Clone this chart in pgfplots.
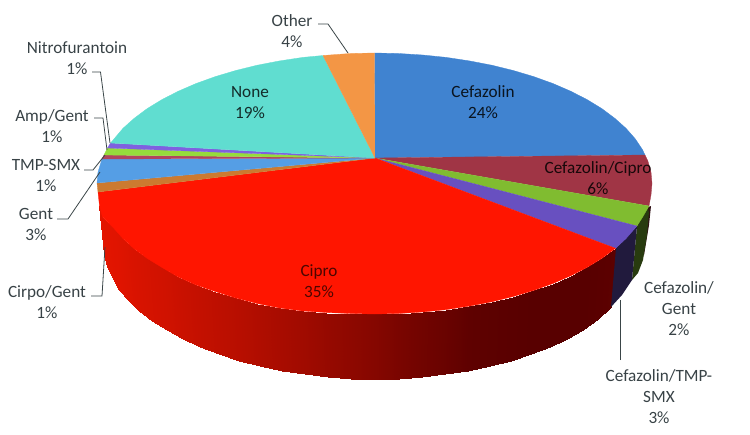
\documentclass[border=0pt]{standalone}
\usepackage{pgfplots}
\usepackage{fontspec}
\setmainfont{Carlito}
\pgfplotsset{compat=1.18}
\definecolor{cCef}{HTML}{4083D0}
\definecolor{cCC}{HTML}{A03545}
\definecolor{cCG}{HTML}{80BC30}
\definecolor{cCT}{HTML}{6850C0}
\definecolor{cCip}{HTML}{FF1500}
\definecolor{cCpG}{HTML}{CC7A30}
\definecolor{cGen}{HTML}{559EE5}
\definecolor{cTMP}{HTML}{B0455F}
\definecolor{cAmp}{HTML}{96DC3C}
\definecolor{cNit}{HTML}{7F60E0}
\definecolor{cNon}{HTML}{60DDD0}
\definecolor{cOth}{HTML}{F39645}
\definecolor{cLine}{HTML}{3A4548}
\definecolor{cTxt}{HTML}{384246}
\newcommand{\lab}[4]{\node[align=center,text=#4,font=\fontsize{17.2}{21}\selectfont,inner sep=0pt] at (axis cs:#1,#2) {#3};}
\begin{document}
\begin{tikzpicture}
\begin{axis}[
  width=750pt,height=434pt,scale only axis,
  xmin=0,xmax=750,ymin=0,ymax=434,y dir=reverse,
  axis line style={draw=none},ticks=none,
  colormap={redside}{rgb255=(88,0,0) rgb255=(255,25,0)},
  point meta min=88,point meta max=255,
  no markers,
]
% side wall of the Cipro slice
\addplot[surf,shader=interp,mesh/rows=2,point meta=explicit] table[x=x,y=y,meta=c] {
x y c
615.5 248.3 92
601.8 258.4 90
587.1 267.4 88
570.7 275.8 88
552.9 283.5 88
533.7 290.4 88
513.3 296.5 90
491.8 301.8 92
469.4 306.1 95
446.3 309.6 105
422.7 312.0 113
398.7 313.5 122
374.5 314.0 133
350.3 313.5 142
326.3 312.5 150
302.7 311.0 160
279.6 308.0 168
257.2 303.5 176
235.7 298.0 184
215.3 291.5 190
196.1 285.0 196
178.3 277.0 202
161.9 267.4 208
147.2 258.4 212
134.2 248.8 216
123.0 238.6 220
113.7 228.1 224
102.5 217.0 226
99.5 206.0 228
611.0 307.0 92
597.8 319.0 90
583.4 330.4 88
567.3 339.2 88
549.8 347.2 88
531.0 354.4 88
511.0 360.8 90
490.0 366.3 92
468.0 370.8 95
445.4 374.4 105
422.2 376.9 113
398.7 378.5 122
375.0 379.0 133
351.3 378.5 142
327.8 376.9 150
304.6 374.4 160
282.0 370.8 168
260.0 366.3 176
239.0 360.8 184
219.0 354.4 190
200.2 347.2 196
182.7 339.2 202
166.6 330.4 208
152.2 321.0 212
139.4 311.0 216
128.5 300.5 220
119.4 289.5 224
107.0 266.6 226
104.5 254.0 228
};
% side walls on the right
\addplot[fill=black!70!cCC,draw=none] coordinates {(648,207)(651,206)(649,225)(644,255)(642,255)(646,230)};
\addplot[fill=black!65!cCG!90!black,draw=none] coordinates {(647,207)(637,226)(632,280)(638,273)(643,260)(647,235)(649,212)};
\addplot[fill=black!68!cCT,draw=none] coordinates {(637,226)(616,248)(611,307)(622,295)(632,280)};
% top surface: Cefazolin
\addplot[fill=cCef,draw=cCef,line width=.3pt] coordinates {(375,158)(374.5,53)(398.7,53.5)(422.7,55)(446.3,57.4)(469.4,60.9)(491.8,65.2)(513.3,70.5)(533.7,76.6)(552.9,83.5)(570.7,91.2)(587.1,99.6)(601.8,108.6)(614.8,118.3)(626,128.3)(635.3,138.9)(642.5,149.7)(645,155)};
% Cefazolin/Cipro
\addplot[fill=cCC,draw=cCC,line width=.3pt] coordinates {(375,158)(645,155)(647.8,160.8)(651,172.1)(652,183.5)(651,194.9)(649,206)};
% Cefazolin/Gent
\addplot[fill=cCG,draw=cCG,line width=.3pt] coordinates {(375,158)(649,206)(642.5,217.3)(636.9,226)};
% Cefazolin/TMP-SMX
\addplot[fill=cCT,draw=cCT,line width=.3pt] coordinates {(375,158)(636.9,226)(626,238.6)(615.5,248.3)};
% Cipro
\addplot[fill=cCip,draw=cCip,line width=.3pt] coordinates {(375,158)(615.5,248.3)(601.8,258.4)(587.1,267.4)(570.7,275.8)(552.9,283.5)(533.7,290.4)(513.3,296.5)(491.8,301.8)(469.4,306.1)(446.3,309.6)(422.7,312)(398.7,313.5)(374.5,314)(350.3,313.5)(326.3,312.5)(302.7,311)(279.6,308)(257.2,303.5)(235.7,298)(215.3,291.5)(196.1,285)(178.3,277)(161.9,267.4)(147.2,258.4)(134.2,248.8)(123,238.6)(113.7,228.1)(102.5,217)(99.5,206)(98,192)};
% Cirpo/Gent
\addplot[fill=cCpG,draw=cCpG,line width=.3pt] coordinates {(375,158)(98,192)(97,183)};
% Gent
\addplot[fill=cGen,draw=cGen,line width=.3pt] coordinates {(375,158)(97,183)(98,172.1)(102,159)};
% TMP-SMX
\addplot[fill=cTMP,draw=cTMP,line width=.3pt] coordinates {(375,158)(102,159)(104,155)};
% Amp/Gent
\addplot[fill=cAmp,draw=cAmp,line width=.3pt] coordinates {(375,158)(104,155)(107.5,148)};
% Nitrofurantoin
\addplot[fill=cNit,draw=cNit,line width=.3pt] coordinates {(375,158)(107.5,148)(110.6,143)};
% None
\addplot[fill=cNon,draw=cNon,line width=.3pt] coordinates {(375,158)(110.6,143)(123,128.3)(134.2,118.3)(147.2,108.6)(161.9,99.6)(178.3,91.2)(196.1,83.5)(215.3,76.6)(235.7,70.5)(257.2,65.2)(279.6,60.9)(302.7,57.4)(323,55.5)};
% Other
\addplot[fill=cOth,draw=cOth,line width=.3pt] coordinates {(375,158)(323,55.5)(350.3,53.5)(374.5,53)};
% leader lines
\addplot[cLine,line width=.8pt] coordinates {(318,24)(328,24)(348,53)};
\addplot[cLine,line width=.8pt] coordinates {(92,72)(100.5,72)(110,143)};
\addplot[cLine,line width=.8pt] coordinates {(94,118)(103,118)(107,150)};
\addplot[cLine,line width=.8pt] coordinates {(84,170)(93,170)(105,155)};
\addplot[cLine,line width=.8pt] coordinates {(57,219)(68,219)(100,172)};
\addplot[cLine,line width=.8pt] coordinates {(91,296)(102,296)(105,247)};
\addplot[cLine,line width=.8pt] coordinates {(620,360)(620,300)};
% labels
\lab{483}{102.5}{Cefazolin\\24\%}{black!85!cCef}
\lab{598}{178.5}{Cefazolin/Cipro\\6\%}{black!85!cCC}
\lab{250}{102.5}{None\\19\%}{black!80!cNon}
\lab{319}{281.5}{Cipro\\35\%}{black!70!cCip}
\lab{292}{31.5}{Other\\4\%}{cTxt}
\lab{77}{58.5}{Nitrofurantoin\\1\%}{cTxt}
\lab{52}{126.5}{Amp/Gent\\1\%}{cTxt}
\lab{46}{175.5}{TMP-SMX\\1\%}{cTxt}
\lab{36}{224.5}{Gent\\3\%}{cTxt}
\lab{47}{302.5}{Cirpo/Gent\\1\%}{cTxt}
\lab{679}{309}{Cefazolin/\\Gent\\2\%}{cTxt}
\lab{659}{397}{Cefazolin/TMP-\\SMX\\3\%}{cTxt}
\end{axis}
\end{tikzpicture}
\end{document}
